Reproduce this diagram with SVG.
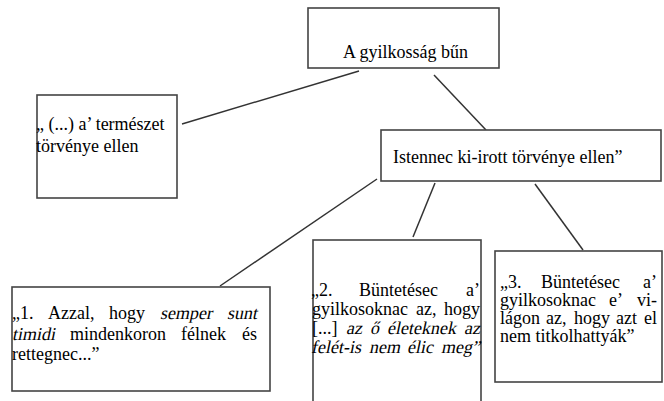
<svg xmlns="http://www.w3.org/2000/svg" width="664" height="401" viewBox="0 0 664 401">
<style>
.box{fill:#fff;stroke:#444;stroke-width:1.6}
.ln{stroke:#333;stroke-width:1.5;fill:none}
text{font-size:18px;fill:#000}
</style>
<rect width="664" height="401" fill="#fff"/>
<g id="connectors">
<line class="ln" x1="359" y1="71" x2="182" y2="124"/>
<line class="ln" x1="434" y1="75" x2="486" y2="130"/>
<line class="ln" x1="377" y1="179" x2="220" y2="286"/>
<line class="ln" x1="435" y1="183" x2="413" y2="237"/>
<line class="ln" x1="535" y1="184" x2="583" y2="250"/>
</g>
<g id="n-top">
<rect class="box" x="308" y="8" width="191" height="60"/>
<text font-family="Times New Roman" x="343" y="58">A gyilkosság bűn</text>
</g>
<g id="n-termeszet">
<rect class="box" x="37" y="95" width="140" height="103"/>
<text font-family="Times New Roman" x="36" y="130">„ (...) a’ természet</text>
<text font-family="Times New Roman" x="36" y="152">törvénye ellen</text>
</g>
<g id="n-istennec">
<rect class="box" x="381" y="130" width="280" height="51"/>
<text font-family="Times New Roman" x="393" y="163">Istennec ki-irott törvénye ellen”</text>
</g>
<g id="n-1">
<rect class="box" x="12" y="287" width="258" height="104"/>
<text font-family="Times New Roman" x="12" y="319">„1.</text>
<text font-family="Times New Roman" x="48" y="319">Azzal,</text>
<text font-family="Times New Roman" x="109" y="319">hogy</text>
<text font-family="Times New Roman" transform="translate(160 319) skewX(-12)">semper</text>
<text font-family="Times New Roman" transform="translate(227 319) skewX(-12)">sunt</text>
<text font-family="Times New Roman" transform="translate(12 340) skewX(-12)">timidi</text>
<text font-family="Times New Roman" x="70" y="340">mindenkoron</text>
<text font-family="Times New Roman" x="181" y="340">félnek</text>
<text font-family="Times New Roman" x="242" y="340">és</text>
<text font-family="Times New Roman" x="12" y="360">rettegnec...”</text>
</g>
<g id="n-2">
<rect class="box" x="313" y="240" width="168" height="170"/>
<text font-family="Times New Roman" x="311" y="296">„2.</text>
<text font-family="Times New Roman" x="359" y="296">Büntetésec</text>
<text font-family="Times New Roman" x="466" y="296">a’</text>
<text font-family="Times New Roman" x="312" y="315">gyilkosoknac</text>
<text font-family="Times New Roman" x="416" y="315">az,</text>
<text font-family="Times New Roman" x="444" y="315">hogy</text>
<text font-family="Times New Roman" x="312" y="334">[...]</text>
<text font-family="Times New Roman" transform="translate(346 334) skewX(-12)">az</text>
<text font-family="Times New Roman" transform="translate(370 334) skewX(-12)">ő</text>
<text font-family="Times New Roman" transform="translate(387 334) skewX(-12)">életeknek</text>
<text font-family="Times New Roman" transform="translate(464 334) skewX(-12)">az</text>
<text font-family="Times New Roman" transform="translate(311 353) skewX(-12)">felét-is</text>
<text font-family="Times New Roman" transform="translate(369 353) skewX(-12)">nem</text>
<text font-family="Times New Roman" transform="translate(407 353) skewX(-12)">élic</text>
<text font-family="Times New Roman" transform="translate(441 353) skewX(-12)">meg”</text>
</g>
<g id="n-3">
<rect class="box" x="495" y="251" width="167" height="131"/>
<text font-family="Times New Roman" x="500" y="288">„3.</text>
<text font-family="Times New Roman" x="541" y="288">Büntetésec</text>
<text font-family="Times New Roman" x="643" y="288">a’</text>
<text font-family="Times New Roman" x="500" y="306">gyilkosoknac</text>
<text font-family="Times New Roman" x="609" y="306">e’</text>
<text font-family="Times New Roman" x="637" y="306">vi-</text>
<text font-family="Times New Roman" x="500" y="324">lágon</text>
<text font-family="Times New Roman" x="546" y="324">az,</text>
<text font-family="Times New Roman" x="574" y="324">hogy</text>
<text font-family="Times New Roman" x="616" y="324">azt</text>
<text font-family="Times New Roman" x="644" y="324">el</text>
<text font-family="Times New Roman" x="500" y="342">nem titkolhattyák”</text>
</g>
</svg>
